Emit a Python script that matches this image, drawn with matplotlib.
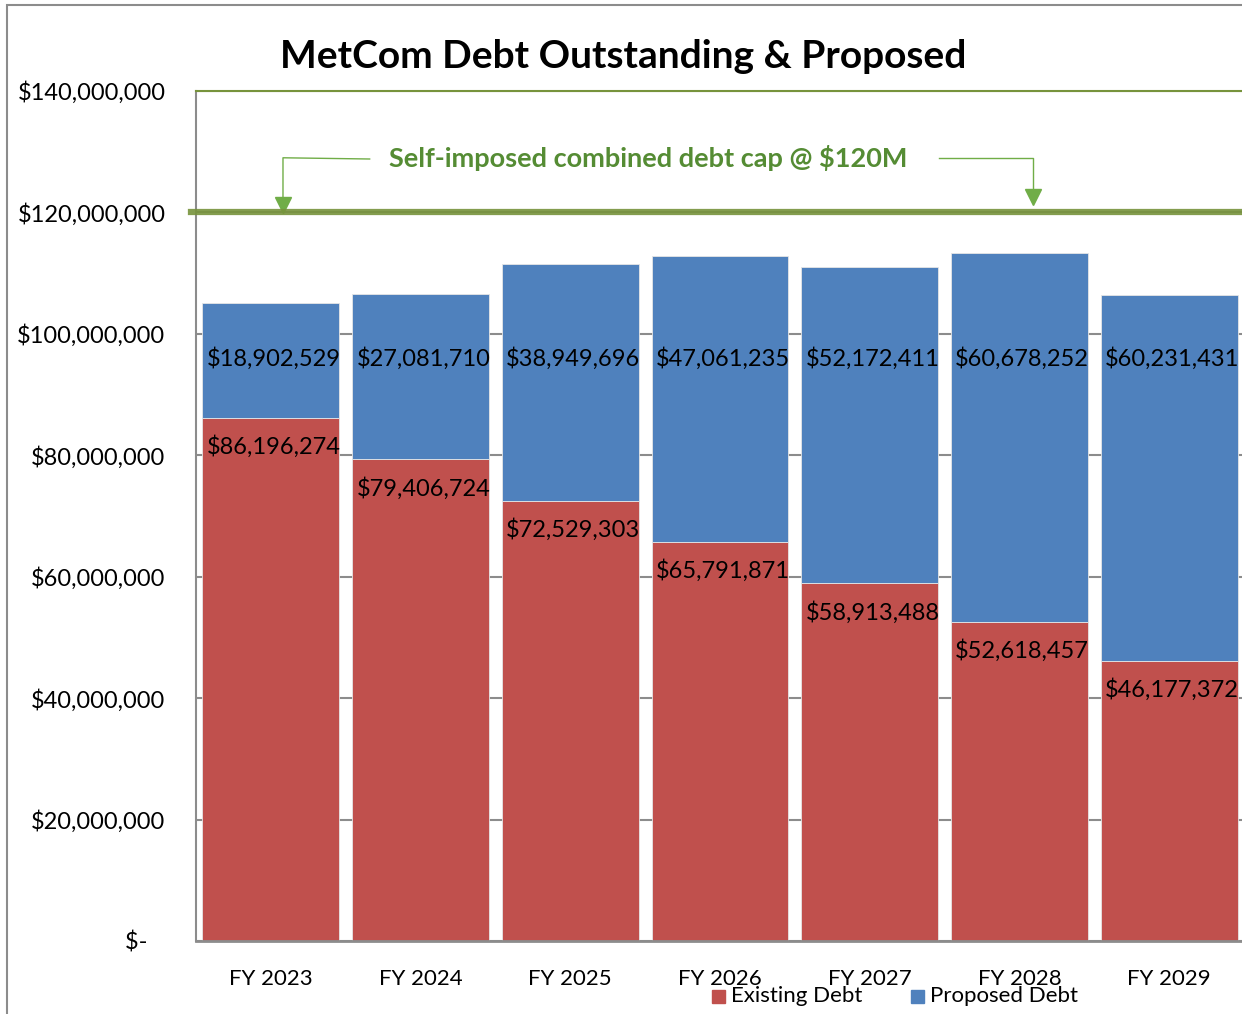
import numpy as np
import matplotlib.pyplot as plt
from matplotlib.patches import Rectangle
from matplotlib.ticker import FuncFormatter

years = ["FY 2023", "FY 2024", "FY 2025", "FY 2026", "FY 2027", "FY 2028", "FY 2029"]
existing = [86196274, 79406724, 72529303, 65791871, 58913488, 52618457, 46177372]
proposed = [18902529, 27081710, 38949696, 47061235, 52172411, 60678252, 60231431]
debt_cap = 120000000

red = "#C0504D"
blue = "#4F81BD"
green = "#77933C"
text_green = "#558C34"
arrow_green = "#70AD47"

plt.rcParams['font.family'] = ['Lato', 'DejaVu Sans']

fig = plt.figure(figsize=(12.42, 10.14), dpi=100)
ax = fig.add_axes([196 / 1242, 1 - 941 / 1014, 1048 / 1242, 850 / 1014])

x = np.arange(len(years))
ax.bar(x, existing, width=0.915, color=red, edgecolor="#E6E6E6", linewidth=0.6, zorder=2)
ax.bar(x, proposed, bottom=existing, width=0.915, color=blue, edgecolor="#E6E6E6",
       linewidth=0.6, zorder=2)

# data labels (sit a touch right of the bar centre, like the original)
for i in range(len(years)):
    ax.annotate("${:,}".format(existing[i]), (x[i], existing[i]), xytext=(2, -21),
                textcoords="offset points", ha="center", va="center", fontsize=17, zorder=4)
    ax.annotate("${:,}".format(proposed[i]), (x[i], 95900000), xytext=(2, 0),
                textcoords="offset points", ha="center", va="center", fontsize=17, zorder=4)

ax.set_xlim(-0.5, len(years) - 0.5)
ax.set_ylim(0, 140000000)
ax.set_yticks(np.arange(0, 140000001, 20000000))
ax.yaxis.set_major_formatter(FuncFormatter(lambda v, p: "$-   " if v == 0 else "${:,.0f}".format(v)))
ax.set_xticks(x)
ax.set_xticklabels(years)
ax.tick_params(axis="y", length=0, pad=22, labelsize=17)
ax.tick_params(axis="x", length=0, pad=20, labelsize=16)
ax.grid(axis="y", color="#8C8C8C", linewidth=1.5, zorder=0)

ax.spines["left"].set_color("#8C8C8C")
ax.spines["left"].set_linewidth(1.5)
ax.spines["bottom"].set_color("#8C8C8C")
ax.spines["bottom"].set_linewidth(2)
ax.spines["top"].set_color(green)
ax.spines["top"].set_linewidth(1.5)
ax.spines["right"].set_visible(False)

# debt cap line
ax.axhline(debt_cap, xmin=-0.005, color=green, linewidth=4.5, alpha=0.9, zorder=3, clip_on=False)

ax.text(2.52, 128900000, "Self-imposed combined debt cap @ $120M", ha="center", va="center",
        fontsize=19.5, fontweight="bold", color=text_green)
ax.plot([0.66, 0.081, 0.081], [128800000, 129000000, 121000000], color=arrow_green, linewidth=1)
ax.plot([4.46, 5.09, 5.09], [129000000, 129000000, 122300000], color=arrow_green, linewidth=1)
ax.plot([0.081, 5.09], [121300000, 122500000], linestyle="none", marker="v", markersize=11,
        color=arrow_green)

fig.text(623 / 1242, 1 - 56 / 1014, "MetCom Debt Outstanding & Proposed", ha="center", va="center",
         fontsize=28, fontweight="bold")

# legend
fig.patches.append(Rectangle((712 / 1242, 1 - 1003 / 1014), 13 / 1242, 13 / 1014, color=red,
                             transform=fig.transFigure))
fig.text(731 / 1242, 1 - 996 / 1014, "Existing Debt", va="center", fontsize=16)
fig.patches.append(Rectangle((911 / 1242, 1 - 1003 / 1014), 13 / 1242, 13 / 1014, color=blue,
                             transform=fig.transFigure))
fig.text(930 / 1242, 1 - 996 / 1014, "Proposed Debt", va="center", fontsize=16)

# chart border
fig.patches.append(Rectangle((7 / 1242, -0.01), 1.1, 1 - 5 / 1014 + 0.01, fill=False,
                             edgecolor="#8C8C8C", linewidth=1.5, transform=fig.transFigure))

fig.savefig("out.png", dpi=100)
